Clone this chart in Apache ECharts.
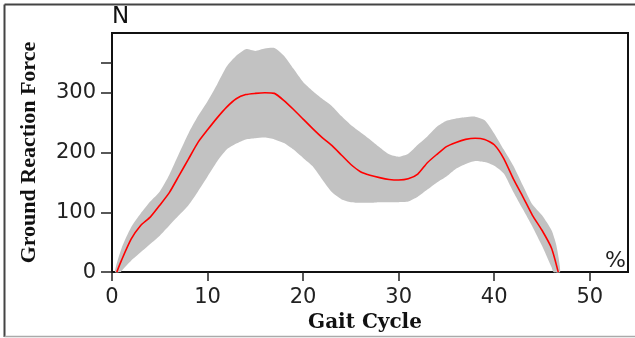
<!DOCTYPE html>
<html>
<head>
<meta charset="utf-8">
<script src="https://cdn.jsdelivr.net/npm/echarts@6/dist/echarts.min.js"></script>
<style>
html,body{margin:0;padding:0;background:#fff;}
#chart{width:635px;height:338px;}
</style>
</head>
<body>
<div id="chart"></div>
<script>
// Mean curve (red)
const meanX = [0.5,1,2,3,4,5,6,7,8,9,10,11,12,13,14,15,16,17,18,19,20,21,22,23,24,25,26,27,28,29,30,31,32,33,34,35,36,37,38,39,40,41,42,43,44,45,46,46.7];
const meanY = [0,20,55,78,92,112,133,161,189,217,238,258,276,290,297,299,300,299,287,272,256,240,225,212,196,180,168,162,158,155,154,156,164,183,197,210,217,222,224,222,213,190,156,126,95,70,40,0];
// Upper edge of grey band
const upperX = [0.3,1,2,3,4,5,6,7,8,9,10,11,12,13,14,15,16,17,18,19,20,21,22,23,24,25,26,27,28,29,30,31,32,33,34,35,36,37,38,39,40,41,42,43,44,45,46,46.5,46.9];
const upperY = [0,40,75,98,118,135,163,198,232,261,286,314,344,362,373,370,374,375,362,340,318,303,290,278,261,246,234,222,209,197,193,198,213,227,243,253,257,259,260,254,232,205,178,145,113,95,70,45,0];
// Lower edge of grey band
const lowerX = [0.9,1,2,3,4,5,6,7,8,9,10,11,12,13,14,15,16,17,18,19,20,21,22,23,24,25,26,27,28,29,30,31,32,33,34,35,36,37,38,39,40,41,42,43,44,45,46,46.2];
const lowerY = [0,2,19,33,47,61,78,95,112,135,160,185,205,215,222,224,225,222,216,205,191,177,155,134,122,117,116,116,117,117,117,118,126,138,150,160,173,181,186,184,178,165,134,105,76,44,8,0];
// Tick labels
const xTicks = [0,10,20,30,40,50];
const yTicks = [0,100,200,300];
const yTickMarks = [0,100,200,300,350];

const chart = echarts.init(document.getElementById('chart'), null, {renderer:'canvas'});
const sans = 'DejaVu Sans';
const option = {
  backgroundColor:'#fff',
  animation:false,
  grid:{left:112, top:33, right:7, bottom:64, show:true, borderColor:'#111', borderWidth:2, containLabel:false},
  xAxis:[{
    type:'value', min:0, max:54, position:'bottom',
    axisLine:{show:true, onZero:false, lineStyle:{color:'#111', width:2}},
    axisTick:{show:true, length:9, customValues:xTicks, lineStyle:{color:'#222', width:1.5}},
    axisLabel:{customValues:xTicks, fontSize:21, fontFamily:sans, color:'#222', margin:15},
    splitLine:{show:false},
    name:'Gait Cycle', nameLocation:'middle', nameGap:39,
    nameTextStyle:{fontFamily:'DejaVu Serif', fontWeight:'bold', fontSize:20, color:'#111', padding:[0,10,0,0]}
  },{
    type:'value', min:0, max:54, position:'bottom', offset:0,
    axisLine:{show:false}, axisTick:{show:false}, axisLabel:{show:false}, splitLine:{show:false},
    name:'%', nameLocation:'end', nameGap:-2,
    nameTextStyle:{align:'right', verticalAlign:'bottom', fontFamily:sans, fontSize:22, color:'#222'}
  }],
  yAxis:[{
    type:'value', min:0, max:400, position:'left',
    axisLine:{show:true, onZero:false, lineStyle:{color:'#111', width:2}},
    axisTick:{show:true, length:11, customValues:yTickMarks, lineStyle:{color:'#222', width:1.5}},
    axisLabel:{customValues:yTicks, fontSize:21, fontFamily:sans, color:'#222', margin:16},
    splitLine:{show:false},
    name:'Ground Reaction Force', nameLocation:'middle', nameGap:72,
    nameTextStyle:{fontFamily:'Liberation Serif', fontWeight:'bold', fontSize:22, color:'#111'}
  },{
    type:'value', min:0, max:400, position:'left', offset:0,
    axisLine:{show:false}, axisTick:{show:false}, axisLabel:{show:false}, splitLine:{show:false},
    name:'N', nameLocation:'end', nameGap:4,
    nameTextStyle:{align:'left', verticalAlign:'bottom', fontFamily:sans, fontSize:23, color:'#111'}
  }],
  graphic:[
    {type:'line', shape:{x1:4.5, y1:4.5, x2:635, y2:4.5}, style:{stroke:'#444', lineWidth:2}, silent:true},
    {type:'line', shape:{x1:4.5, y1:4.5, x2:4.5, y2:337}, style:{stroke:'#444', lineWidth:2}, silent:true},
    {type:'line', shape:{x1:4.5, y1:336.5, x2:635, y2:336.5}, style:{stroke:'#aaa', lineWidth:1.5}, silent:true}
  ],
  series:[{
    type:'custom', xAxisIndex:0, yAxisIndex:0, silent:true,
    data:[[0,0]],
    encode:{x:0, y:1},
    renderItem:function(params, api){
      const pts = [];
      for (let i=0;i<upperX.length;i++) pts.push(api.coord([upperX[i], upperY[i]]));
      for (let i=lowerX.length-1;i>=0;i--) pts.push(api.coord([lowerX[i], lowerY[i]]));
      return {type:'polygon', shape:{points:pts, smooth:0.2}, style:{fill:'#c2c2c2', stroke:null}};
    },
    z:1
  },{
    type:'line', xAxisIndex:0, yAxisIndex:0,
    data: meanX.map((x,i)=>[x, meanY[i]]),
    showSymbol:false, smooth:0.2,
    lineStyle:{color:'#ff0000', width:1.6},
    z:3
  }]
};
chart.setOption(option);
</script>
</body>
</html>
